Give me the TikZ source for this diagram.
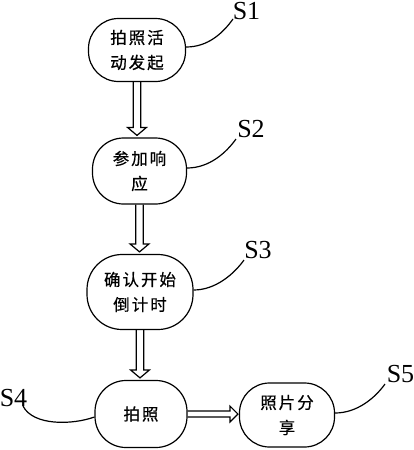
\documentclass[tikz,border=0pt]{standalone}
\usepackage{fontspec}
\setmainfont{Liberation Serif}
\newfontfamily\cjk[LetterSpace=12,FakeBold=0.6]{Noto Sans CJK SC}
\usetikzlibrary{calc}
\tikzset{
  stepbox/.style={draw, line width=1.2pt, rounded corners=#1, align=center,
    font=\cjk\fontsize{16.5}{25}\selectfont, inner sep=0pt},
  stepbox/.default=30pt,
  lbl/.style={font=\fontsize{26}{26}\selectfont, inner sep=0pt},
  tail/.style={line width=1.2pt},
  dblarrow/.style={line width=1.2pt, line join=miter},
}
\newcommand\vdblarrow[2]{%
  \draw[dblarrow] let \p1=(#1.south), \p2=(#2.north) in
    (\x1-3.7pt,\y1) -- (\x1-3.7pt,\y2+10pt) -- (\x1-9.5pt,\y2+10pt) --
    (\x1,\y2+2pt) -- (\x1+9.5pt,\y2+10pt) -- (\x1+3.7pt,\y2+10pt) -- (\x1+3.7pt,\y1);}
\begin{document}
\begin{tikzpicture}[x=1pt,y=-1pt]
\fill[white] (0,0) rectangle (414,450);
\useasboundingbox (0,0) rectangle (414,450);

% step boxes
\node[stepbox=30pt, minimum width=97pt, minimum height=63pt] (s1) at (137,50) {拍照活\\动发起};
\node[stepbox=31pt, minimum width=94pt, minimum height=66pt] (s2) at (139.5,171) {参加响\\应};
\node[stepbox=35pt, minimum width=106pt, minimum height=75pt] (s3) at (140,292) {确认开始\\倒计时};
\node[stepbox=31pt, minimum width=92pt, minimum height=67pt] (s4) at (141,414) {拍照};
\node[stepbox=30pt, minimum width=95pt, minimum height=64pt] (s5) at (287,415) {照片分\\享};

% labels
\node[lbl] (l1) at (246.5,11) {S1};
\node[lbl] (l2) at (251,129) {S2};
\node[lbl] (l3) at (258,250) {S3};
\node[lbl] (l4) at (13.5,398) {S4};
\node[lbl] (l5) at (400.5,374) {S5};

\coordinate (t1) at (233,19);
\coordinate (t2) at (236,139);
\coordinate (t3) at (244,260);
\coordinate (t4) at (23,406);
\coordinate (t5) at (385,384);

% tails
\draw[tail] ($(s1.east)+(0,-3)$) .. controls +(22,0) and +(-10,14) .. (t1);
\draw[tail] ($(s2.east)+(0,-3)$) .. controls +(22,0) and +(-10,14) .. (t2);
\draw[tail] ($(s3.east)+(0,-2)$) .. controls +(22,0) and +(-10,14) .. (t3);
\draw[tail] ($(s5.east)+(0,-2)$) .. controls +(22,0) and +(-10,14) .. (t5);
\draw[tail] (t4) .. controls +(10,20) and +(-22,8) .. ($(s4.west)+(0,3)$);

% double arrows
\vdblarrow{s1}{s2}
\vdblarrow{s2}{s3}
\vdblarrow{s3}{s4}
\draw[dblarrow] let \p1=(s4.east), \p2=(s5.west) in
  (\x1,\y1+3pt) -- (\x2-9pt,\y1+3pt) -- (\x2-9pt,\y1+8pt) -- (\x2-1pt,\y1) --
  (\x2-9pt,\y1-8pt) -- (\x2-9pt,\y1-3pt) -- (\x1,\y1-3pt);
\end{tikzpicture}
\end{document}
